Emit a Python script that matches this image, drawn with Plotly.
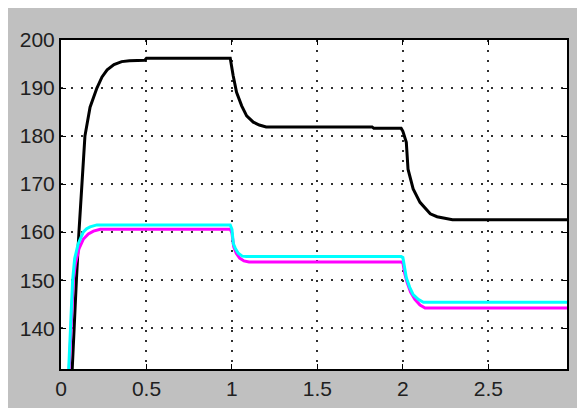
import plotly.graph_objects as go

# time samples (s)
t_black = [0.0, 0.055, 0.065, 0.076, 0.09, 0.105, 0.12, 0.14, 0.17, 0.21, 0.24, 0.27, 0.31, 0.355, 0.40, 0.49, 0.50, 0.99,
           1.007, 1.027, 1.057, 1.086, 1.125, 1.16, 1.2, 1.82, 1.83, 1.99, 2.0, 2.02, 2.03, 2.06, 2.1, 2.16, 2.2, 2.255, 2.29, 2.97]
black = [120.0, 120.0, 131.0, 140.0, 150.0, 160.0, 168.0, 180.0, 186.0, 190.0, 192.3, 193.8, 194.9, 195.5, 195.7, 195.8, 196.2, 196.2,
         192.6, 189.1, 186.3, 184.2, 182.9, 182.3, 181.9, 181.9, 181.6, 181.6, 181.0, 178.7, 173.1, 169.0, 166.2, 163.8, 163.2, 162.9, 162.6, 162.6]

t_cyan = [0.0, 0.035, 0.045, 0.055, 0.068, 0.08, 0.1, 0.13, 0.15, 0.17, 0.21, 0.99,
          1.0, 1.008, 1.02, 1.037, 1.06, 1.085, 1.99, 2.0, 2.01, 2.02, 2.04, 2.06, 2.09, 2.12, 2.97]
cyan = [120.0, 120.0, 131.5, 140.0, 150.0, 154.5, 157.5, 160.0, 160.7, 161.1, 161.5, 161.5,
        160.6, 157.6, 156.6, 155.6, 155.0, 154.9, 154.9, 154.7, 152.5, 150.5, 148.5, 147.0, 146.0, 145.4, 145.4]

t_magenta = [0.0, 0.038, 0.048, 0.058, 0.072, 0.085, 0.105, 0.13, 0.16, 0.19, 0.23, 0.99,
             1.0, 1.01, 1.025, 1.045, 1.07, 1.1, 1.99, 2.0, 2.01, 2.025, 2.045, 2.07, 2.1, 2.13, 2.97]
magenta = [120.0, 120.0, 131.5, 140.0, 150.0, 153.5, 156.5, 158.5, 159.6, 160.2, 160.6, 160.6,
           159.8, 157.0, 155.6, 154.6, 154.0, 153.8, 153.8, 153.6, 151.5, 149.5, 147.5, 146.0, 144.8, 144.2, 144.2]

x_ticks = [0, 0.5, 1, 1.5, 2, 2.5]
x_labels = ["0", "0.5", "1", "1.5", "2", "2.5"]
y_ticks = [140, 150, 160, 170, 180, 190, 200]
y_labels = ["140", "150", "160", "170", "180", "190", "200"]

fig = go.Figure()
fig.add_trace(go.Scatter(x=t_black, y=black, mode="lines", line=dict(color="#000000", width=3), showlegend=False))
fig.add_trace(go.Scatter(x=t_magenta, y=magenta, mode="lines", line=dict(color="#ff00ff", width=3), showlegend=False))
fig.add_trace(go.Scatter(x=t_cyan, y=cyan, mode="lines", line=dict(color="#00ffff", width=3), showlegend=False))

axis_common = dict(showline=True, linecolor="black", linewidth=2, mirror="ticks",
                   ticks="inside", ticklen=5, tickcolor="black", tickwidth=1,
                   showgrid=True, gridcolor="#303030", gridwidth=2, griddash="2px,8px",
                   zeroline=False, automargin=False,
                   tickfont=dict(family="Liberation Sans, Arial, sans-serif", size=21, color="#202020"))

fig.update_xaxes(range=[0, 2.96], tickvals=x_ticks, ticktext=x_labels, **axis_common)
fig.update_yaxes(range=[131.5, 200], tickvals=y_ticks, ticktext=y_labels, **axis_common)

fig.update_layout(width=585, height=408, margin=dict(l=53, r=26, t=32, b=47),
                  paper_bgcolor="#c0c0c0", plot_bgcolor="white")

fig.write_html("out.html")
